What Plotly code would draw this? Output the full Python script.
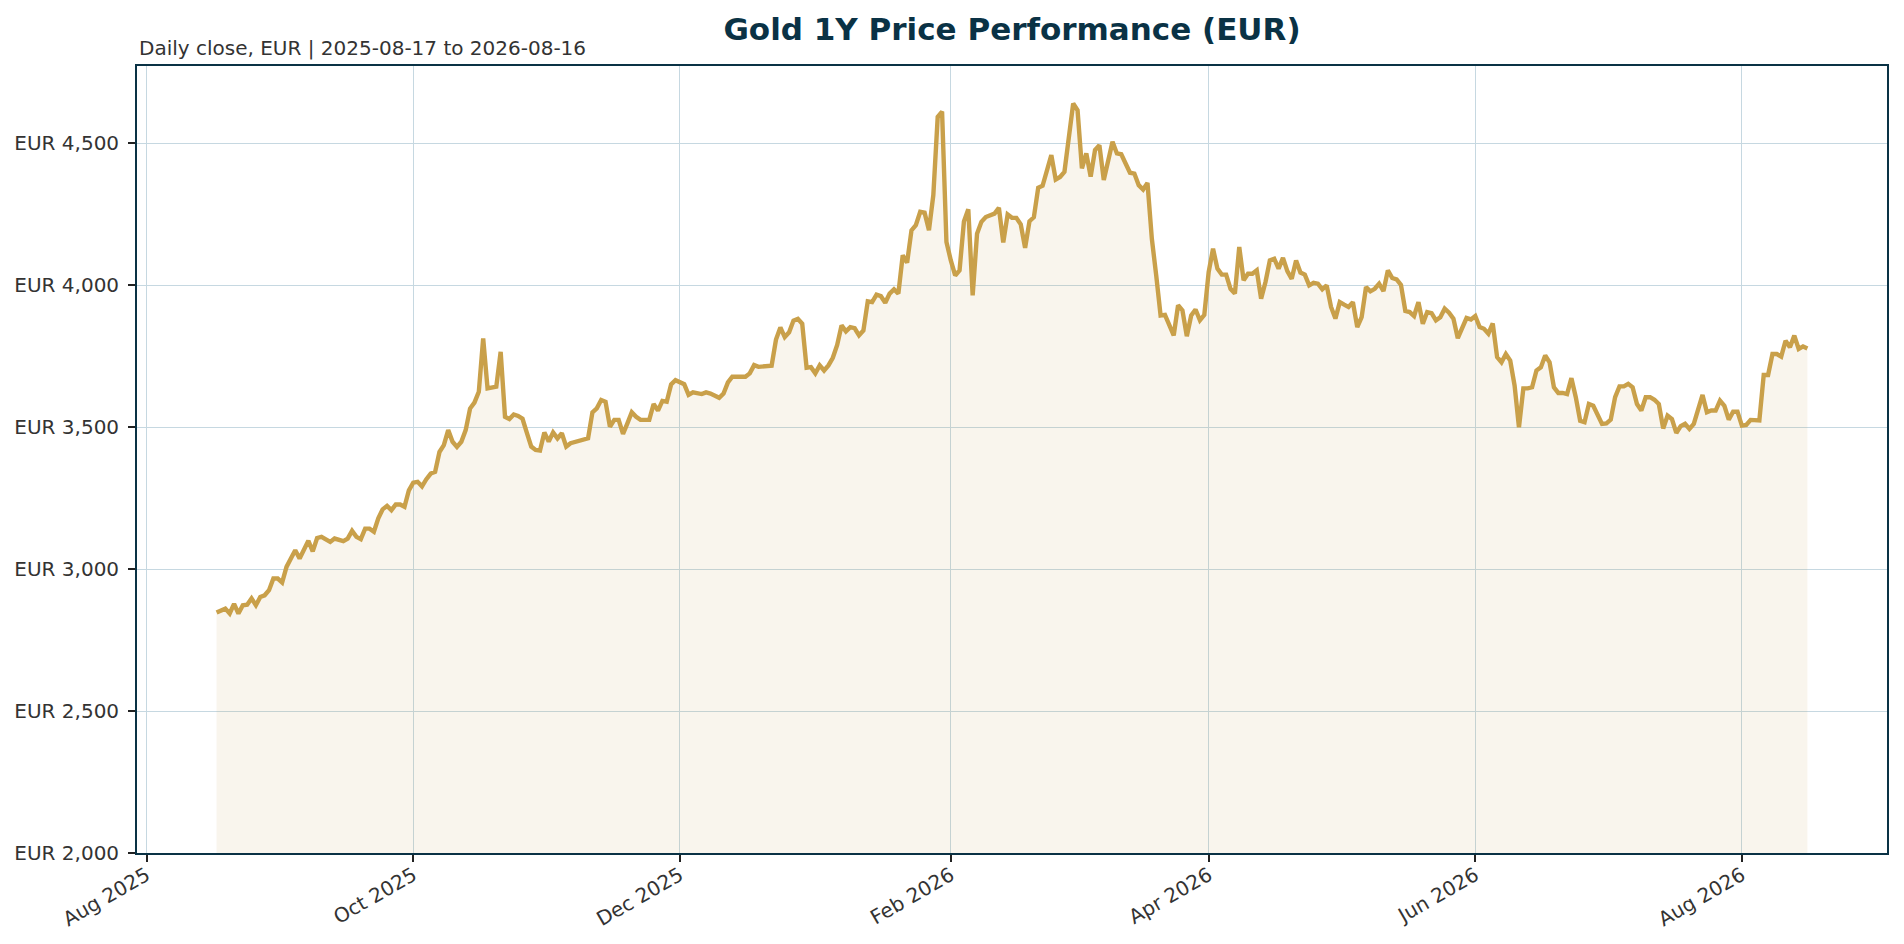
import plotly.graph_objects as go

# daily close, EUR
dates = [
    "2025-08-17", "2025-08-19", "2025-08-20", "2025-08-21", "2025-08-22", "2025-08-23", "2025-08-24", "2025-08-25",
    "2025-08-26", "2025-08-27", "2025-08-28", "2025-08-29", "2025-08-30", "2025-08-31", "2025-09-01", "2025-09-02",
    "2025-09-03", "2025-09-04", "2025-09-05", "2025-09-07", "2025-09-08", "2025-09-09", "2025-09-10", "2025-09-12",
    "2025-09-13", "2025-09-15", "2025-09-16", "2025-09-17", "2025-09-18", "2025-09-19", "2025-09-20", "2025-09-21",
    "2025-09-22", "2025-09-23", "2025-09-24", "2025-09-25", "2025-09-26", "2025-09-27", "2025-09-28", "2025-09-29",
    "2025-09-30", "2025-10-01", "2025-10-02", "2025-10-03", "2025-10-04", "2025-10-05", "2025-10-06", "2025-10-07",
    "2025-10-08", "2025-10-09", "2025-10-10", "2025-10-11", "2025-10-12", "2025-10-13", "2025-10-14", "2025-10-15",
    "2025-10-16", "2025-10-17", "2025-10-18", "2025-10-20", "2025-10-21", "2025-10-22", "2025-10-23", "2025-10-24",
    "2025-10-25", "2025-10-26", "2025-10-27", "2025-10-28", "2025-10-29", "2025-10-30", "2025-10-31", "2025-11-01",
    "2025-11-02", "2025-11-03", "2025-11-04", "2025-11-05", "2025-11-06", "2025-11-08", "2025-11-09", "2025-11-10",
    "2025-11-11", "2025-11-12", "2025-11-13", "2025-11-14", "2025-11-15", "2025-11-16", "2025-11-17", "2025-11-18",
    "2025-11-19", "2025-11-20", "2025-11-21", "2025-11-22", "2025-11-24", "2025-11-25", "2025-11-26", "2025-11-27",
    "2025-11-28", "2025-11-29", "2025-11-30", "2025-12-02", "2025-12-03", "2025-12-04", "2025-12-06", "2025-12-07",
    "2025-12-08", "2025-12-10", "2025-12-11", "2025-12-12", "2025-12-13", "2025-12-14", "2025-12-16", "2025-12-17",
    "2025-12-18", "2025-12-19", "2025-12-21", "2025-12-22", "2025-12-23", "2025-12-24", "2025-12-25", "2025-12-26",
    "2025-12-27", "2025-12-28", "2025-12-29", "2025-12-30", "2025-12-31", "2026-01-01", "2026-01-02", "2026-01-03",
    "2026-01-04", "2026-01-05", "2026-01-06", "2026-01-07", "2026-01-08", "2026-01-09", "2026-01-10", "2026-01-11",
    "2026-01-12", "2026-01-13", "2026-01-14", "2026-01-15", "2026-01-16", "2026-01-17", "2026-01-18", "2026-01-19",
    "2026-01-20", "2026-01-21", "2026-01-22", "2026-01-23", "2026-01-24", "2026-01-25", "2026-01-26", "2026-01-27",
    "2026-01-28", "2026-01-29", "2026-01-30", "2026-01-31", "2026-02-01", "2026-02-02", "2026-02-03", "2026-02-04",
    "2026-02-05", "2026-02-06", "2026-02-07", "2026-02-08", "2026-02-09", "2026-02-11", "2026-02-12", "2026-02-13",
    "2026-02-14", "2026-02-15", "2026-02-16", "2026-02-17", "2026-02-18", "2026-02-19", "2026-02-20", "2026-02-21",
    "2026-02-22", "2026-02-24", "2026-02-25", "2026-02-26", "2026-02-27", "2026-02-28", "2026-03-01", "2026-03-02",
    "2026-03-03", "2026-03-04", "2026-03-05", "2026-03-06", "2026-03-07", "2026-03-08", "2026-03-09", "2026-03-10",
    "2026-03-11", "2026-03-12", "2026-03-14", "2026-03-15", "2026-03-16", "2026-03-17", "2026-03-18", "2026-03-19",
    "2026-03-20", "2026-03-21", "2026-03-22", "2026-03-23", "2026-03-24", "2026-03-25", "2026-03-26", "2026-03-27",
    "2026-03-28", "2026-03-29", "2026-03-30", "2026-03-31", "2026-04-01", "2026-04-02", "2026-04-03", "2026-04-04",
    "2026-04-05", "2026-04-06", "2026-04-07", "2026-04-08", "2026-04-09", "2026-04-10", "2026-04-11", "2026-04-12",
    "2026-04-13", "2026-04-14", "2026-04-15", "2026-04-16", "2026-04-17", "2026-04-18", "2026-04-19", "2026-04-20",
    "2026-04-21", "2026-04-22", "2026-04-23", "2026-04-24", "2026-04-25", "2026-04-26", "2026-04-27", "2026-04-28",
    "2026-04-29", "2026-04-30", "2026-05-01", "2026-05-02", "2026-05-03", "2026-05-04", "2026-05-05", "2026-05-06",
    "2026-05-07", "2026-05-08", "2026-05-09", "2026-05-10", "2026-05-11", "2026-05-12", "2026-05-13", "2026-05-14",
    "2026-05-15", "2026-05-16", "2026-05-17", "2026-05-18", "2026-05-19", "2026-05-20", "2026-05-21", "2026-05-22",
    "2026-05-23", "2026-05-24", "2026-05-25", "2026-05-26", "2026-05-27", "2026-05-28", "2026-05-29", "2026-05-30",
    "2026-05-31", "2026-06-01", "2026-06-02", "2026-06-03", "2026-06-04", "2026-06-05", "2026-06-06", "2026-06-07",
    "2026-06-08", "2026-06-09", "2026-06-10", "2026-06-11", "2026-06-12", "2026-06-13", "2026-06-14", "2026-06-15",
    "2026-06-16", "2026-06-17", "2026-06-18", "2026-06-19", "2026-06-20", "2026-06-21", "2026-06-22", "2026-06-23",
    "2026-06-24", "2026-06-25", "2026-06-26", "2026-06-27", "2026-06-28", "2026-06-29", "2026-06-30", "2026-07-01",
    "2026-07-02", "2026-07-03", "2026-07-04", "2026-07-05", "2026-07-06", "2026-07-07", "2026-07-08", "2026-07-09",
    "2026-07-10", "2026-07-11", "2026-07-12", "2026-07-13", "2026-07-14", "2026-07-15", "2026-07-16", "2026-07-17",
    "2026-07-18", "2026-07-19", "2026-07-20", "2026-07-21", "2026-07-22", "2026-07-23", "2026-07-24", "2026-07-25",
    "2026-07-26", "2026-07-27", "2026-07-28", "2026-07-29", "2026-07-30", "2026-07-31", "2026-08-01", "2026-08-02",
    "2026-08-03", "2026-08-04", "2026-08-05", "2026-08-06", "2026-08-07", "2026-08-08", "2026-08-09", "2026-08-10",
    "2026-08-11", "2026-08-12", "2026-08-13", "2026-08-14", "2026-08-15", "2026-08-16",
]
close_eur = [
    2847, 2861, 2844, 2878, 2844, 2873, 2875, 2897,
    2873, 2902, 2908, 2926, 2967, 2967, 2953, 3008,
    3038, 3067, 3038, 3100, 3063, 3110, 3114, 3096,
    3108, 3099, 3108, 3135, 3114, 3106, 3143, 3143,
    3132, 3179, 3211, 3223, 3208, 3228, 3228, 3220,
    3278, 3305, 3308, 3292, 3317, 3337, 3343, 3413,
    3437, 3490, 3449, 3431, 3449, 3490, 3566, 3587,
    3625, 3813, 3637, 3643, 3766, 3537, 3529, 3545,
    3540, 3530, 3480, 3432, 3420, 3418, 3482, 3450,
    3482, 3461, 3479, 3432, 3444, 3452, 3459, 3461,
    3553, 3567, 3596, 3590, 3502, 3526, 3526, 3477,
    3514, 3553, 3537, 3526, 3526, 3582, 3559, 3593,
    3590, 3651, 3666, 3652, 3614, 3623, 3617, 3623,
    3619, 3604, 3619, 3658, 3678, 3678, 3678, 3690,
    3719, 3713, 3717, 3717, 3809, 3852, 3818, 3835,
    3876, 3882, 3865, 3710, 3712, 3690, 3718, 3700,
    3718, 3745, 3790, 3859, 3838, 3853, 3849, 3824,
    3841, 3944, 3941, 3967, 3962, 3939, 3971, 3986,
    3971, 4106, 4080, 4194, 4212, 4259, 4256, 4194,
    4318, 4594, 4612, 4153, 4088, 4035, 4053, 4225,
    4268, 3965, 4182, 4224, 4241, 4253, 4273, 4151,
    4250, 4238, 4238, 4215, 4132, 4226, 4240, 4344,
    4351, 4459, 4373, 4382, 4400, 4520, 4641, 4617,
    4412, 4465, 4383, 4477, 4494, 4371, 4447, 4506,
    4465, 4462, 4397, 4394, 4353, 4338, 4361, 4164,
    4035, 3894, 3896, 3859, 3824, 3930, 3912, 3821,
    3894, 3915, 3877, 3896, 4047, 4129, 4059, 4038,
    4038, 3988, 3971, 4135, 4018, 4041, 4041, 4053,
    3953, 4012, 4088, 4094, 4059, 4097, 4050, 4023,
    4088, 4045, 4038, 4000, 4009, 4006, 3986, 4000,
    3924, 3883, 3941, 3932, 3924, 3941, 3853, 3888,
    3994, 3979, 3988, 4006, 3980, 4053, 4026, 4021,
    4002, 3910, 3906, 3892, 3941, 3865, 3906, 3902,
    3877, 3888, 3918, 3904, 3883, 3814, 3847, 3885,
    3880, 3892, 3853, 3847, 3830, 3866, 3747, 3729,
    3758, 3735, 3647, 3500, 3637, 3637, 3641, 3700,
    3711, 3753, 3729, 3641, 3621, 3621, 3617, 3673,
    3606, 3523, 3518, 3582, 3576, 3547, 3512, 3514,
    3527, 3606, 3644, 3644, 3653, 3641, 3582, 3559,
    3606, 3606, 3597, 3582, 3496, 3541, 3529, 3480,
    3504, 3512, 3494, 3512, 3570, 3614, 3553, 3559,
    3559, 3594, 3576, 3527, 3555, 3555, 3506, 3508,
    3526, 3524, 3524, 3684, 3684, 3758, 3758, 3749,
    3805, 3782, 3823, 3776, 3785, 3778,
]

xtick_vals = ["2025-08-01", "2025-10-01", "2025-12-01", "2026-02-01", "2026-04-01", "2026-06-01", "2026-08-01"]
xtick_text = ["Aug 2025", "Oct 2025", "Dec 2025", "Feb 2026", "Apr 2026", "Jun 2026", "Aug 2026"]
ytick_vals = [2000, 2500, 3000, 3500, 4000, 4500]
ytick_text = ["EUR 2,000", "EUR 2,500", "EUR 3,000", "EUR 3,500", "EUR 4,000", "EUR 4,500"]

navy = "#0A3245"
gold = "#C9A04A"
grid = "#C6D8E1"
font = "DejaVu Sans"

fig = go.Figure()
fig.add_trace(go.Scatter(
    x=dates, y=close_eur, mode="lines",
    line=dict(color=gold, width=4.4),
    fill="tozeroy", fillcolor="rgba(201,160,74,0.10)",
    hoverinfo="x+y", showlegend=False,
))

axis_common = dict(
    showline=True, linecolor=navy, linewidth=1.8, mirror=True,
    ticks="outside", ticklen=7, tickwidth=1.6, tickcolor="#222222",
    showgrid=True, gridcolor=grid, gridwidth=1, zeroline=False,
    automargin=False,
    tickfont=dict(family=font, size=20, color="#333333"),
)

# the page body adds an 8px offset, so margins are shifted to compensate
fig.update_layout(
    width=1904, height=944,
    paper_bgcolor="white", plot_bgcolor="white",
    margin=dict(l=129, r=25, t=58, b=99),
    title=dict(
        text="<b>Gold 1Y Price Performance (EUR)</b>",
        font=dict(family=font, size=31, color=navy),
        x=0.5, xref="paper", xanchor="center",
        y=1 - 21 / 944, yref="container", yanchor="middle",
    ),
    xaxis=dict(axis_common, type="date",
               range=["2025-07-29 19:00", "2026-09-03 05:00"],
               tickvals=xtick_vals, ticktext=xtick_text, tickangle=-30,
               ticklabelstandoff=-6),
    yaxis=dict(axis_common, range=[2000, 4773],
               tickvals=ytick_vals, ticktext=ytick_text, ticklabelstandoff=5),
    annotations=[dict(
        text="Daily close, EUR | 2025-08-17 to 2026-08-16",
        xref="paper", yref="paper", x=0, y=1, xanchor="left", yanchor="bottom",
        yshift=4, showarrow=False,
        font=dict(family=font, size=20, color="#333333"),
    )],
)

fig.write_html("out.html")
